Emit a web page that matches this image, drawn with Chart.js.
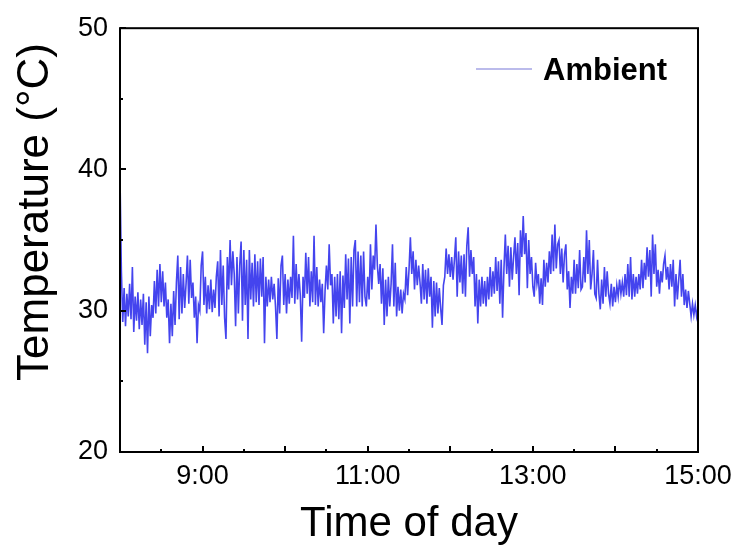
<!DOCTYPE html>
<html>
<head>
<meta charset="utf-8">
<script src="https://cdn.jsdelivr.net/npm/chart.js@4.4.1/dist/chart.umd.min.js"></script>
<style>
  html, body { margin: 0; padding: 0; background: #fff; }
  #wrap { width: 751px; height: 554px; }
</style>
</head>
<body>
<div id="wrap"><canvas id="chart"></canvas></div>
<script>
// minutes after midnight of the first sample, one sample per minute
const startMinute = 480;
const sampleStep = 1;

// ambient temperature (°C), 8:00 -> 15:00
const ambient = [
    39.5, 32.8, 29.2, 31.6, 28.9, 31.2, 29.6, 31.9, 29.4, 33.1,
    28.5, 31.0, 29.3, 31.3, 28.7, 30.8, 29.0, 31.2, 27.6, 30.6,
    27.0, 31.0, 28.2, 30.4, 29.5, 32.1, 29.8, 32.9, 30.3, 33.3,
    30.6, 32.8, 30.3, 32.0, 29.5, 30.8, 27.7, 30.5, 28.2, 31.4,
    29.0, 32.0, 33.9, 29.4, 33.1, 29.8, 32.6, 30.2, 31.9, 33.9,
    30.5, 33.6, 30.9, 32.0, 29.5, 31.0, 27.7, 30.4, 30.0, 33.2,
    34.2, 30.4, 32.4, 29.8, 31.8, 30.1, 32.2, 29.9, 31.5, 30.2,
    32.4, 33.5, 29.6, 34.3, 30.4, 33.2, 29.5, 28.0, 33.8, 31.5,
    35.0, 31.8, 34.2, 32.6, 28.9, 33.8, 29.8, 33.2, 34.9, 29.3,
    34.3, 30.4, 33.6, 28.0, 34.3, 30.8, 33.4, 30.3, 34.0, 30.6,
    33.5, 30.4, 33.7, 31.0, 33.8, 27.7, 32.4, 30.3, 32.2, 30.6,
    32.4, 30.8, 31.9, 30.3, 28.0, 32.3, 29.8, 33.2, 33.9, 30.4,
    32.6, 29.8, 32.2, 30.5, 32.4, 30.9, 35.3, 30.5, 33.3, 30.8,
    32.6, 31.1, 27.8, 32.4, 30.9, 34.1, 31.2, 33.8, 30.3, 32.8,
    30.6, 35.3, 30.4, 33.1, 30.3, 32.2, 30.6, 31.9, 28.4, 31.4,
    33.2, 31.5, 34.7, 31.8, 32.6, 29.1, 32.4, 29.6, 32.6, 29.4,
    32.8, 28.4, 32.5, 30.2, 34.0, 30.8, 33.7, 29.1, 33.8, 30.3,
    34.3, 35.0, 30.3, 34.2, 30.6, 33.9, 30.3, 34.2, 31.0, 30.3,
    32.4, 30.8, 34.7, 31.5, 33.9, 32.9, 36.1, 33.2, 31.9, 33.3,
    30.5, 33.0, 29.0, 32.2, 29.6, 32.4, 30.3, 31.9, 34.7, 30.3,
    33.4, 29.6, 31.7, 30.0, 31.5, 29.8, 31.2, 30.8, 33.1, 31.1,
    32.9, 35.2, 32.6, 34.2, 31.5, 33.6, 31.8, 33.2, 32.0, 30.5,
    33.3, 30.8, 32.9, 30.5, 33.0, 31.0, 32.4, 28.8, 32.1, 29.6,
    32.0, 29.8, 31.6, 30.2, 29.0, 31.8, 32.4, 34.4, 32.6, 34.0,
    32.4, 33.8, 32.2, 33.6, 35.2, 31.0, 34.2, 32.0, 33.9, 31.2,
    34.0, 31.0, 34.6, 35.9, 32.4, 34.3, 32.6, 33.8, 30.3, 32.6,
    29.1, 32.2, 30.3, 32.4, 30.5, 32.1, 30.3, 32.4, 30.8, 33.1,
    31.0, 32.8, 31.2, 33.8, 31.4, 33.5, 30.5, 33.6, 29.5, 33.0,
    35.4, 32.6, 34.6, 31.7, 34.5, 32.2, 33.8, 35.2, 32.6, 34.8,
    31.1, 35.7, 33.8, 36.7, 34.0, 35.5, 31.6, 35.0, 32.6, 33.8,
    31.7, 31.0, 33.4, 31.9, 32.6, 30.5, 32.3, 30.4, 33.6, 31.7,
    33.4, 32.0, 34.2, 32.6, 35.4, 32.8, 36.1, 33.0, 34.7, 35.0,
    32.6, 34.4, 32.0, 34.0, 34.7, 31.5, 32.8, 30.2, 32.4, 31.2,
    33.6, 31.2, 33.3, 31.6, 34.3, 31.5, 31.7, 33.8, 32.0, 35.7,
    32.6, 35.0, 31.5, 32.6, 34.3, 31.2, 30.9, 33.6, 31.2, 30.1,
    32.2, 30.5, 33.1, 31.0, 32.8, 31.2, 30.5, 31.9, 30.3, 31.7,
    30.6, 31.8, 31.0, 32.2, 31.2, 32.0, 31.0, 32.6, 31.1, 33.3,
    31.0, 33.8, 30.8, 32.6, 31.0, 32.4, 31.2, 32.6, 31.5, 33.6,
    31.6, 33.4, 32.2, 34.5, 32.4, 34.3, 31.0, 35.4, 32.6, 34.7,
    31.7, 32.9, 31.2, 32.8, 32.0, 33.3, 33.9, 32.2, 33.1, 31.5,
    33.3, 31.7, 33.6, 30.3, 32.6, 30.8, 32.2, 33.6, 31.0, 32.6,
    30.4, 31.5, 30.2, 31.4, 30.5, 29.6, 30.5, 29.7, 30.4, 29.6,
    30.2
];

const labeledHours = [9, 11, 13, 15];
const tickLabels = ["9:00", "11:00", "13:00", "15:00"];

const seriesName = "Ambient";
const xTitle = "Time of day";
const yTitle = "Temperature (°C)";

const FONT = "'Liberation Sans', Arial, sans-serif";

const points = ambient.map((v, i) => ({ x: startMinute + i * sampleStep, y: v }));

// frame, inward ticks, legend and y title
const decor = {
    id: "decor",
    afterDraw(chart) {
        const ctx = chart.ctx;
        const { left, right, top, bottom } = chart.chartArea;
        const xs = chart.scales.x, ys = chart.scales.y;
        ctx.save();
        ctx.strokeStyle = "#000";
        ctx.lineWidth = 2;
        ctx.beginPath();
        for (let m = xs.min; m <= xs.max; m += 30) {
            const px = Math.round(xs.getPixelForValue(m));
            const len = m % 60 === 0 ? 6 : 3;
            ctx.moveTo(px, bottom);
            ctx.lineTo(px, bottom - len);
        }
        for (let v = ys.min; v <= ys.max; v += 5) {
            const py = Math.round(ys.getPixelForValue(v));
            const len = v % 10 === 0 ? 6 : 3;
            ctx.moveTo(left, py);
            ctx.lineTo(left + len, py);
        }
        ctx.stroke();
        ctx.strokeRect(left, top, right - left, bottom - top);

        // legend
        ctx.strokeStyle = "rgb(120,120,215)";
        ctx.lineWidth = 1.2;
        ctx.beginPath();
        ctx.moveTo(476, 69);
        ctx.lineTo(532, 69);
        ctx.stroke();
        ctx.fillStyle = "#000";
        ctx.font = "bold 31px " + FONT;
        ctx.textAlign = "left";
        ctx.textBaseline = "alphabetic";
        ctx.fillText(seriesName, 543, 80);

        // y title
        ctx.translate(48, 212);
        ctx.rotate(-Math.PI / 2);
        ctx.font = "44px " + FONT;
        ctx.textAlign = "center";
        ctx.fillText(yTitle, 0, 0);
        ctx.restore();
    }
};

new Chart("chart", {
    type: "line",
    data: {
        datasets: [{
            label: seriesName,
            data: points,
            borderColor: "rgb(68,68,238)",
            borderWidth: 1.6,
            pointRadius: 0,
            tension: 0,
            fill: false
        }]
    },
    options: {
        responsive: true,
        maintainAspectRatio: false,
        animation: false,
        layout: { padding: { top: 24, right: 53, left: 0, bottom: 0 } },
        plugins: {
            legend: { display: false },
            tooltip: { enabled: false }
        },
        scales: {
            x: {
                type: "linear",
                min: 480,
                max: 900,
                afterFit: s => { s.height = 102; },
                grid: { display: false, drawTicks: false },
                border: { display: false },
                ticks: {
                    stepSize: 60,
                    autoSkip: false,
                    maxRotation: 0,
                    padding: 8,
                    color: "#000",
                    font: { family: FONT, size: 27 },
                    callback: v => {
                        const idx = labeledHours.indexOf(v / 60);
                        return idx >= 0 ? tickLabels[idx] : "";
                    }
                },
                title: {
                    display: true,
                    text: xTitle,
                    color: "#000",
                    font: { family: FONT, size: 42 },
                    padding: { top: 0, bottom: 4 }
                }
            },
            y: {
                min: 20,
                max: 50,
                afterFit: s => { s.width = 120; },
                grid: { display: false, drawTicks: false },
                border: { display: false },
                ticks: {
                    stepSize: 10,
                    padding: 12,
                    color: "#000",
                    font: { family: FONT, size: 27 }
                }
            }
        }
    },
    plugins: [decor]
});
</script>
</body>
</html>
